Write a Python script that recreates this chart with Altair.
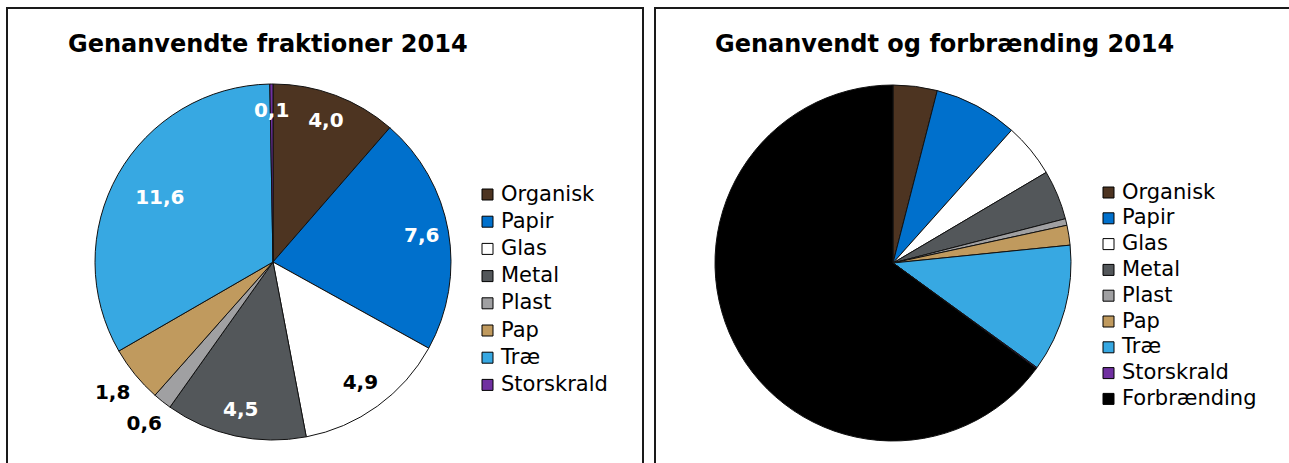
import json
import altair as alt
import pandas as pd

# ---- data ----
categories = ["Organisk", "Papir", "Glas", "Metal", "Plast", "Pap", "Træ", "Storskrald"]
recycled = [4.0, 7.6, 4.9, 4.5, 0.6, 1.8, 11.6, 0.1]
incineration_label = "Forbrænding"
incineration = 64.9
colors = ["#4D3421", "#0070CC", "#FFFFFF", "#53575A", "#A0A0A2", "#C09A5E", "#37A8E2", "#7030A0"]
incineration_color = "#000000"
titles = ["Genanvendte fraktioner 2014", "Genanvendt og forbrænding 2014"]

left_df = pd.DataFrame({"cat": categories, "v": recycled, "idx": list(range(len(categories)))})
right_cats = categories + [incineration_label]
right_df = pd.DataFrame({"cat": right_cats, "v": recycled + [incineration],
                         "idx": list(range(len(right_cats)))})
one = pd.DataFrame({"k": [0]})

FONT = "DejaVu Sans"
W, H = 1289, 463
LCX, LCY, RCX, RCY, R = 273, 262, 893, 263, 178


def legend(x, y, pad):
    return alt.Legend(title=None, orient="none", legendX=x, legendY=y,
                      symbolType="square", symbolSize=121, symbolStrokeColor="#000",
                      symbolStrokeWidth=1, labelFont=FONT, labelFontSize=21,
                      labelColor="#000", rowPadding=pad, labelOffset=3, padding=0,
                      symbolOpacity=1)


def border(x1, x2):
    return alt.Chart(one).mark_rect(filled=False, stroke="#1a1a1a", strokeWidth=2).encode(
        x=alt.value(x1), x2=alt.value(x2), y=alt.value(8), y2=alt.value(490))


def title(text, x):
    return alt.Chart(one).mark_text(font=FONT, fontSize=24, fontWeight="bold", color="#000",
                                    align="left", baseline="alphabetic").encode(
        x=alt.value(x), y=alt.value(52), text=alt.value(text))


arcL = alt.Chart(left_df).mark_arc(radius=R, stroke="#111", strokeWidth=1).encode(
    theta=alt.Theta("v:Q", stack=True),
    color=alt.Color("cat:N", scale=alt.Scale(domain=categories, range=colors),
                    legend=legend(477, 184, 5.2)),
    order=alt.Order("idx:Q"),
    x=alt.value(LCX), y=alt.value(LCY))


def labels(group, r, color):
    expr = ("indexof(" + json.dumps(group, ensure_ascii=False) +
            ", datum.cat) >= 0 ? replace(format(datum.v, '.1f'), '.', ',') : ''")
    return alt.Chart(left_df).transform_calculate(lbl=expr).mark_text(
        radius=r, font=FONT, fontSize=20, fontWeight="bold", color=color,
        align="center", baseline="middle").encode(
        theta=alt.Theta("v:Q", stack=True), detail="cat:N", order=alt.Order("idx:Q"),
        text="lbl:N", x=alt.value(LCX), y=alt.value(LCY))


left_pie = alt.layer(
    arcL,
    labels(["Organisk", "Papir", "Metal", "Storskrald"], 151, "#FFFFFF"),
    labels(["Glas"], 149, "#000000"),
    labels(["Træ"], 130, "#FFFFFF"),
    labels(["Plast", "Pap"], 207, "#000000"),
)

right_pie = alt.Chart(right_df).mark_arc(radius=R, stroke="#111", strokeWidth=1).encode(
    theta=alt.Theta("v:Q", stack=True),
    color=alt.Color("cat:N", scale=alt.Scale(domain=right_cats, range=colors + [incineration_color]),
                    legend=legend(1098, 182, 3.8)),
    order=alt.Order("idx:Q"),
    x=alt.value(RCX), y=alt.value(RCY))

chart = alt.layer(
    border(7, 643), border(655, 1300),
    title(titles[0], 68), title(titles[1], 715),
    left_pie, right_pie,
).resolve_scale(theta="independent", color="independent").properties(
    width=W, height=H, padding=0, autosize="none", background="#FFFFFF"
).configure_view(stroke=None)

chart.save("out.html", embed_options={"renderer": "svg", "actions": False})
